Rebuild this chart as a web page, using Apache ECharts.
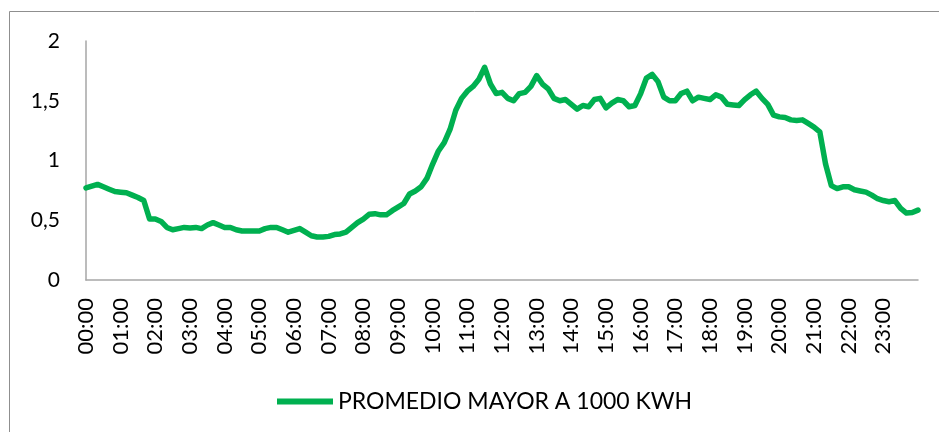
<!DOCTYPE html>
<html>
<head>
<meta charset="utf-8">
<script src="https://cdn.jsdelivr.net/npm/echarts@6/dist/echarts.min.js"></script>
<style>
html,body{margin:0;padding:0;background:#fff;}
#chart{width:939px;height:432px;}
</style>
</head>
<body>
<div id="chart"></div>
<script>
// 10-minute time slots 00:00 .. 24:00
const times = [];
for (let h = 0; h <= 24; h++) {
  for (let m = 0; m < 60; m += 10) {
    if (h === 24 && m > 0) break;
    times.push(String(h).padStart(2, '0') + ':' + String(m).padStart(2, '0'));
  }
}
const seriesName = 'PROMEDIO MAYOR A 1000 KWH';
const values = [
  0.77, 0.785, 0.80, 0.78, 0.76, 0.74, 0.735, 0.73, 0.71, 0.69,
  0.665, 0.51, 0.51, 0.49, 0.44, 0.42, 0.43, 0.44, 0.435, 0.44,
  0.43, 0.46, 0.48, 0.46, 0.44, 0.44, 0.42, 0.41, 0.41, 0.41,
  0.41, 0.43, 0.44, 0.44, 0.42, 0.40, 0.415, 0.43, 0.40, 0.37,
  0.36, 0.36, 0.365, 0.38, 0.385, 0.40, 0.44, 0.48, 0.51, 0.55,
  0.555, 0.545, 0.545, 0.58, 0.61, 0.64, 0.72, 0.745, 0.78, 0.85,
  0.97, 1.08, 1.15, 1.26, 1.42, 1.52, 1.58, 1.62, 1.68, 1.78,
  1.64, 1.56, 1.57, 1.52, 1.50, 1.56, 1.57, 1.62, 1.71, 1.64,
  1.60, 1.52, 1.50, 1.51, 1.47, 1.43, 1.46, 1.45, 1.51, 1.52,
  1.44, 1.48, 1.51, 1.50, 1.45, 1.46, 1.56, 1.69, 1.72, 1.66,
  1.53, 1.50, 1.50, 1.56, 1.58, 1.50, 1.53, 1.52, 1.51, 1.55,
  1.53, 1.47, 1.465, 1.46, 1.51, 1.55, 1.58, 1.52, 1.47, 1.38,
  1.365, 1.36, 1.34, 1.335, 1.34, 1.31, 1.28, 1.24, 0.97, 0.79,
  0.765, 0.78, 0.78, 0.755, 0.745, 0.735, 0.71, 0.68, 0.665, 0.655,
  0.665, 0.60, 0.56, 0.565, 0.585
];
const yTicks = [0, 0.5, 1, 1.5, 2];

const font = 'Lato';
const chart = echarts.init(document.getElementById('chart'));
chart.setOption({
  animation: false,
  backgroundColor: '#ffffff',
  graphic: [{
    type: 'rect',
    shape: { x: 9.5, y: 11.5, width: 2000, height: 2000 },
    style: { fill: 'none', stroke: '#8f8f8f', lineWidth: 1 },
    silent: true
  }],
  grid: { left: 86, right: 21, top: 41, bottom: 152, containLabel: false },
  legend: {
    data: [{ name: seriesName, icon: 'rect' }],
    left: 272,
    top: 385,
    itemWidth: 56,
    itemHeight: 6,
    textStyle: { fontFamily: font, fontSize: 23, color: '#000' }
  },
  xAxis: {
    type: 'category',
    data: times,
    boundaryGap: false,
    axisLine: { lineStyle: { color: '#a6a6a6', width: 1.5 } },
    axisTick: { show: false },
    axisLabel: {
      rotate: 90,
      margin: 18,
      interval: (i) => i % 6 === 0 && i < 144,
      fontFamily: font,
      fontSize: 22,
      color: '#000'
    },
    splitLine: { show: false }
  },
  yAxis: {
    type: 'value',
    min: 0,
    max: 2,
    interval: 0.5,
    axisLine: { show: true, lineStyle: { color: '#a6a6a6', width: 1.5 } },
    axisTick: { show: false },
    splitLine: { show: false },
    axisLabel: {
      margin: 26,
      fontFamily: font,
      fontSize: 21,
      color: '#000',
      formatter: (v) => yTicks.includes(v) ? String(v).replace('.', ',') : ''
    }
  },
  series: [{
    name: seriesName,
    type: 'line',
    data: values,
    showSymbol: false,
    symbol: 'none',
    lineStyle: { color: '#00b050', width: 5.5, cap: 'round', join: 'round' },
    itemStyle: { color: '#00b050' }
  }]
});
</script>
</body>
</html>
